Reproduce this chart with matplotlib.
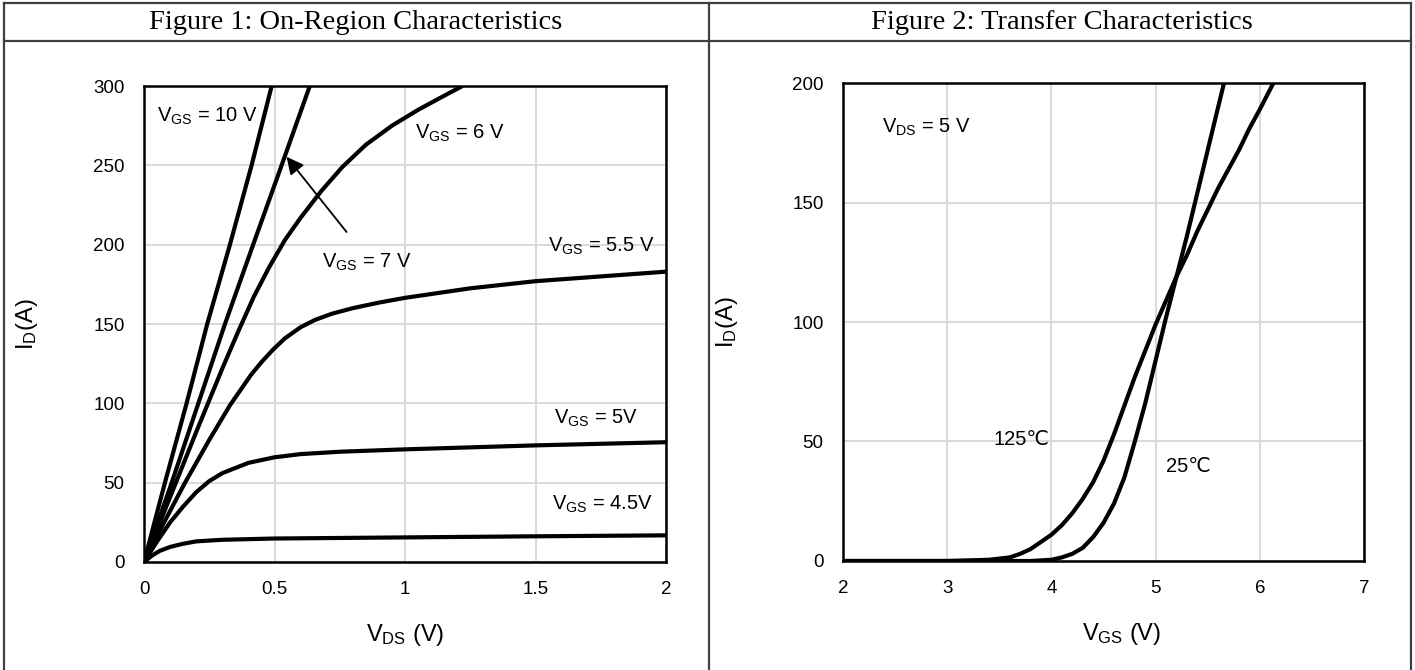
import matplotlib
matplotlib.use('Agg')
import matplotlib.pyplot as plt
from matplotlib.lines import Line2D

plt.rcParams['font.family'] = ['Liberation Sans', 'DejaVu Sans']
plt.rcParams['mathtext.fontset'] = 'custom'
plt.rcParams['mathtext.rm'] = 'Liberation Sans'
plt.rcParams['mathtext.it'] = 'Liberation Sans'

# Figure 1: On-Region Characteristics, I_D (A) vs V_DS (V)
vds_10 = [0, 0.08, 0.163, 0.242, 0.329, 0.412, 0.489]
id_10 = [0, 50, 100, 150, 200, 250, 300]
vds_7 = [0, 0.106, 0.208, 0.31, 0.418, 0.527, 0.635]
id_7 = [0, 50, 100, 150, 200, 250, 300]
vds_6 = [0, 0.1, 0.2, 0.3, 0.36, 0.42, 0.48, 0.54, 0.6, 0.68, 0.76, 0.85, 0.95, 1.05, 1.14, 1.22]
id_6 = [0, 41, 82, 122, 145, 167, 186, 203, 217, 234, 249, 263, 275, 285, 293, 300]
vds_55 = [0, 0.08, 0.157, 0.25, 0.33, 0.41, 0.45, 0.495, 0.54, 0.6, 0.654, 0.72, 0.8, 0.9, 1.0,
	1.25, 1.5, 1.75, 2.0]
id_55 = [0, 26, 50, 77, 99, 118, 126, 134, 141, 148, 152.5, 156.5, 160, 163.5, 166.5,
	172.5, 177, 180, 183]
vds_5 = [0, 0.05, 0.1, 0.15, 0.2, 0.25, 0.3, 0.4, 0.5, 0.6, 0.75, 1.0, 1.5, 2.0]
id_5 = [0, 13, 25, 35, 44, 51, 56, 62.5, 66, 68, 69.5, 71, 73.5, 75.5]
vds_45 = [0, 0.03, 0.06, 0.1, 0.15, 0.2, 0.3, 0.5, 1.0, 1.5, 2.0]
id_45 = [0, 4, 7, 9.5, 11.5, 13, 14, 14.8, 15.5, 16.2, 16.8]

# Figure 2: Transfer Characteristics, I_D (A) vs V_GS (V)
vgs_125 = [2, 3.0, 3.4, 3.6, 3.7, 3.8, 3.9, 4.0, 4.1, 4.2, 4.3, 4.4, 4.5, 4.6, 4.7,
	4.8, 4.9, 5.0, 5.1, 5.2, 5.3, 5.4, 5.5, 5.6, 5.7, 5.8, 5.9, 6.0, 6.13]
id_125 = [0, 0, 0.5, 1.5, 3, 5, 8, 11, 15, 20, 26, 33, 42, 53, 65,
	77, 88, 99, 109, 119, 128, 138, 147, 156, 164, 172, 181, 189, 200]
vgs_25 = [2, 3.8, 4.0, 4.1, 4.2, 4.3, 4.4, 4.5, 4.6, 4.7, 4.8, 4.9, 5.0, 5.1,
	5.2, 5.3, 5.4, 5.5, 5.6, 5.656]
id_25 = [0, 0, 0.5, 1.5, 3, 5.5, 10, 16, 24, 35, 50, 66, 84, 102,
	119, 136, 154, 172, 190, 200]

curve_lw = 3.0
grid_color = '#d9d9d9'
tick_size = 13.5
label_size = 17
note_size = 14.5


def styleAxes(ax):
	ax.grid(True, color = grid_color, lw = 1.4)
	ax.set_axisbelow(True)
	for sp in ax.spines.values():
		sp.set_linewidth(1.8)
		sp.set_color('black')
	ax.tick_params(length = 0, labelsize = tick_size, pad = 14)


def curve(ax, x, y):
	ax.plot(x, y, color = 'black', lw = curve_lw, solid_capstyle = 'butt', solid_joinstyle = 'round')


fig = plt.figure(figsize = (14.15, 6.7), dpi = 100)

# table borders
border = dict(color = '#404040', lw = 1.6)
fig.add_artist(Line2D([0.003, 0.997], [0.9955, 0.9955], **border))
fig.add_artist(Line2D([0.003, 0.997], [0.9385, 0.9385], **border))
fig.add_artist(Line2D([0.003, 0.003], [0, 0.9955], **border))
fig.add_artist(Line2D([0.501, 0.501], [0, 0.9955], **border))
fig.add_artist(Line2D([0.997, 0.997], [0, 0.9955], **border))

fig.text(0.251, 0.967, 'Figure 1: On-Region Characteristics', family = 'Liberation Serif',
	fontsize = 20.5, ha = 'center', va = 'center')
fig.text(0.7505, 0.967, 'Figure 2: Transfer Characteristics', family = 'Liberation Serif',
	fontsize = 20.5, ha = 'center', va = 'center')

# left chart
ax1 = fig.add_axes([0.1018, 0.1612, 0.3689, 0.7104])
styleAxes(ax1)
for x, y in [(vds_10, id_10), (vds_7, id_7), (vds_6, id_6), (vds_55, id_55), (vds_5, id_5), (vds_45, id_45)]:
	curve(ax1, x, y)
ax1.set_xlim(0, 2)
ax1.set_ylim(0, 300)
ax1.set_xticks([0, 0.5, 1, 1.5, 2])
ax1.set_xticklabels(['0', '0.5', '1', '1.5', '2'])
ax1.set_yticks([0, 50, 100, 150, 200, 250, 300])
ax1.set_xlabel('V$_{\\mathrm{DS}}$ (V)', fontsize = label_size)
ax1.xaxis.set_label_coords(0.5, -0.126)
ax1.set_ylabel('I$_{\\mathrm{D}}$(A)', fontsize = label_size)
ax1.yaxis.set_label_coords(-0.199, 0.5)

lbl = dict(fontsize = note_size, va = 'center')
ax1.text(0.05, 281, 'V$_{\\mathrm{GS}}$ = 10 V', ha = 'left', **lbl)
ax1.text(1.037, 270, 'V$_{\\mathrm{GS}}$ = 6 V', ha = 'left', **lbl)
ax1.text(0.681, 189, 'V$_{\\mathrm{GS}}$ = 7 V', ha = 'left', **lbl)
ax1.text(1.546, 199, 'V$_{\\mathrm{GS}}$ = 5.5 V', ha = 'left', **lbl)
ax1.text(1.73, 90.7, 'V$_{\\mathrm{GS}}$ = 5V', ha = 'center', **lbl)
ax1.text(1.757, 36.5, 'V$_{\\mathrm{GS}}$ = 4.5V', ha = 'center', **lbl)
ax1.annotate('', xy = (0.546, 255.4), xytext = (0.776, 208),
	arrowprops = dict(arrowstyle = '-|>', color = 'black', lw = 1.3, mutation_scale = 26, shrinkA = 0, shrinkB = 0))

# right chart
ax2 = fig.add_axes([0.5958, 0.1627, 0.3682, 0.7134])
styleAxes(ax2)
curve(ax2, vgs_125, id_125)
curve(ax2, vgs_25, id_25)
ax2.set_xlim(2, 7)
ax2.set_ylim(0, 200)
ax2.set_xticks([2, 3, 4, 5, 6, 7])
ax2.set_yticks([0, 50, 100, 150, 200])
ax2.set_xlabel('V$_{\\mathrm{GS}}$ (V)', fontsize = label_size)
ax2.xaxis.set_label_coords(0.534, -0.126)
ax2.set_ylabel('I$_{\\mathrm{D}}$(A)', fontsize = label_size)
ax2.yaxis.set_label_coords(-0.198, 0.5)

ax2.text(2.37, 181.6, 'V$_{\\mathrm{DS}}$ = 5 V', ha = 'left', **lbl)
ax2.text(3.44, 51, '125\u2103', ha = 'left', **lbl)
ax2.text(5.1, 39.5, '25\u2103', ha = 'left', **lbl)

fig.savefig('out.png', dpi = 100)
plt.close(fig)
